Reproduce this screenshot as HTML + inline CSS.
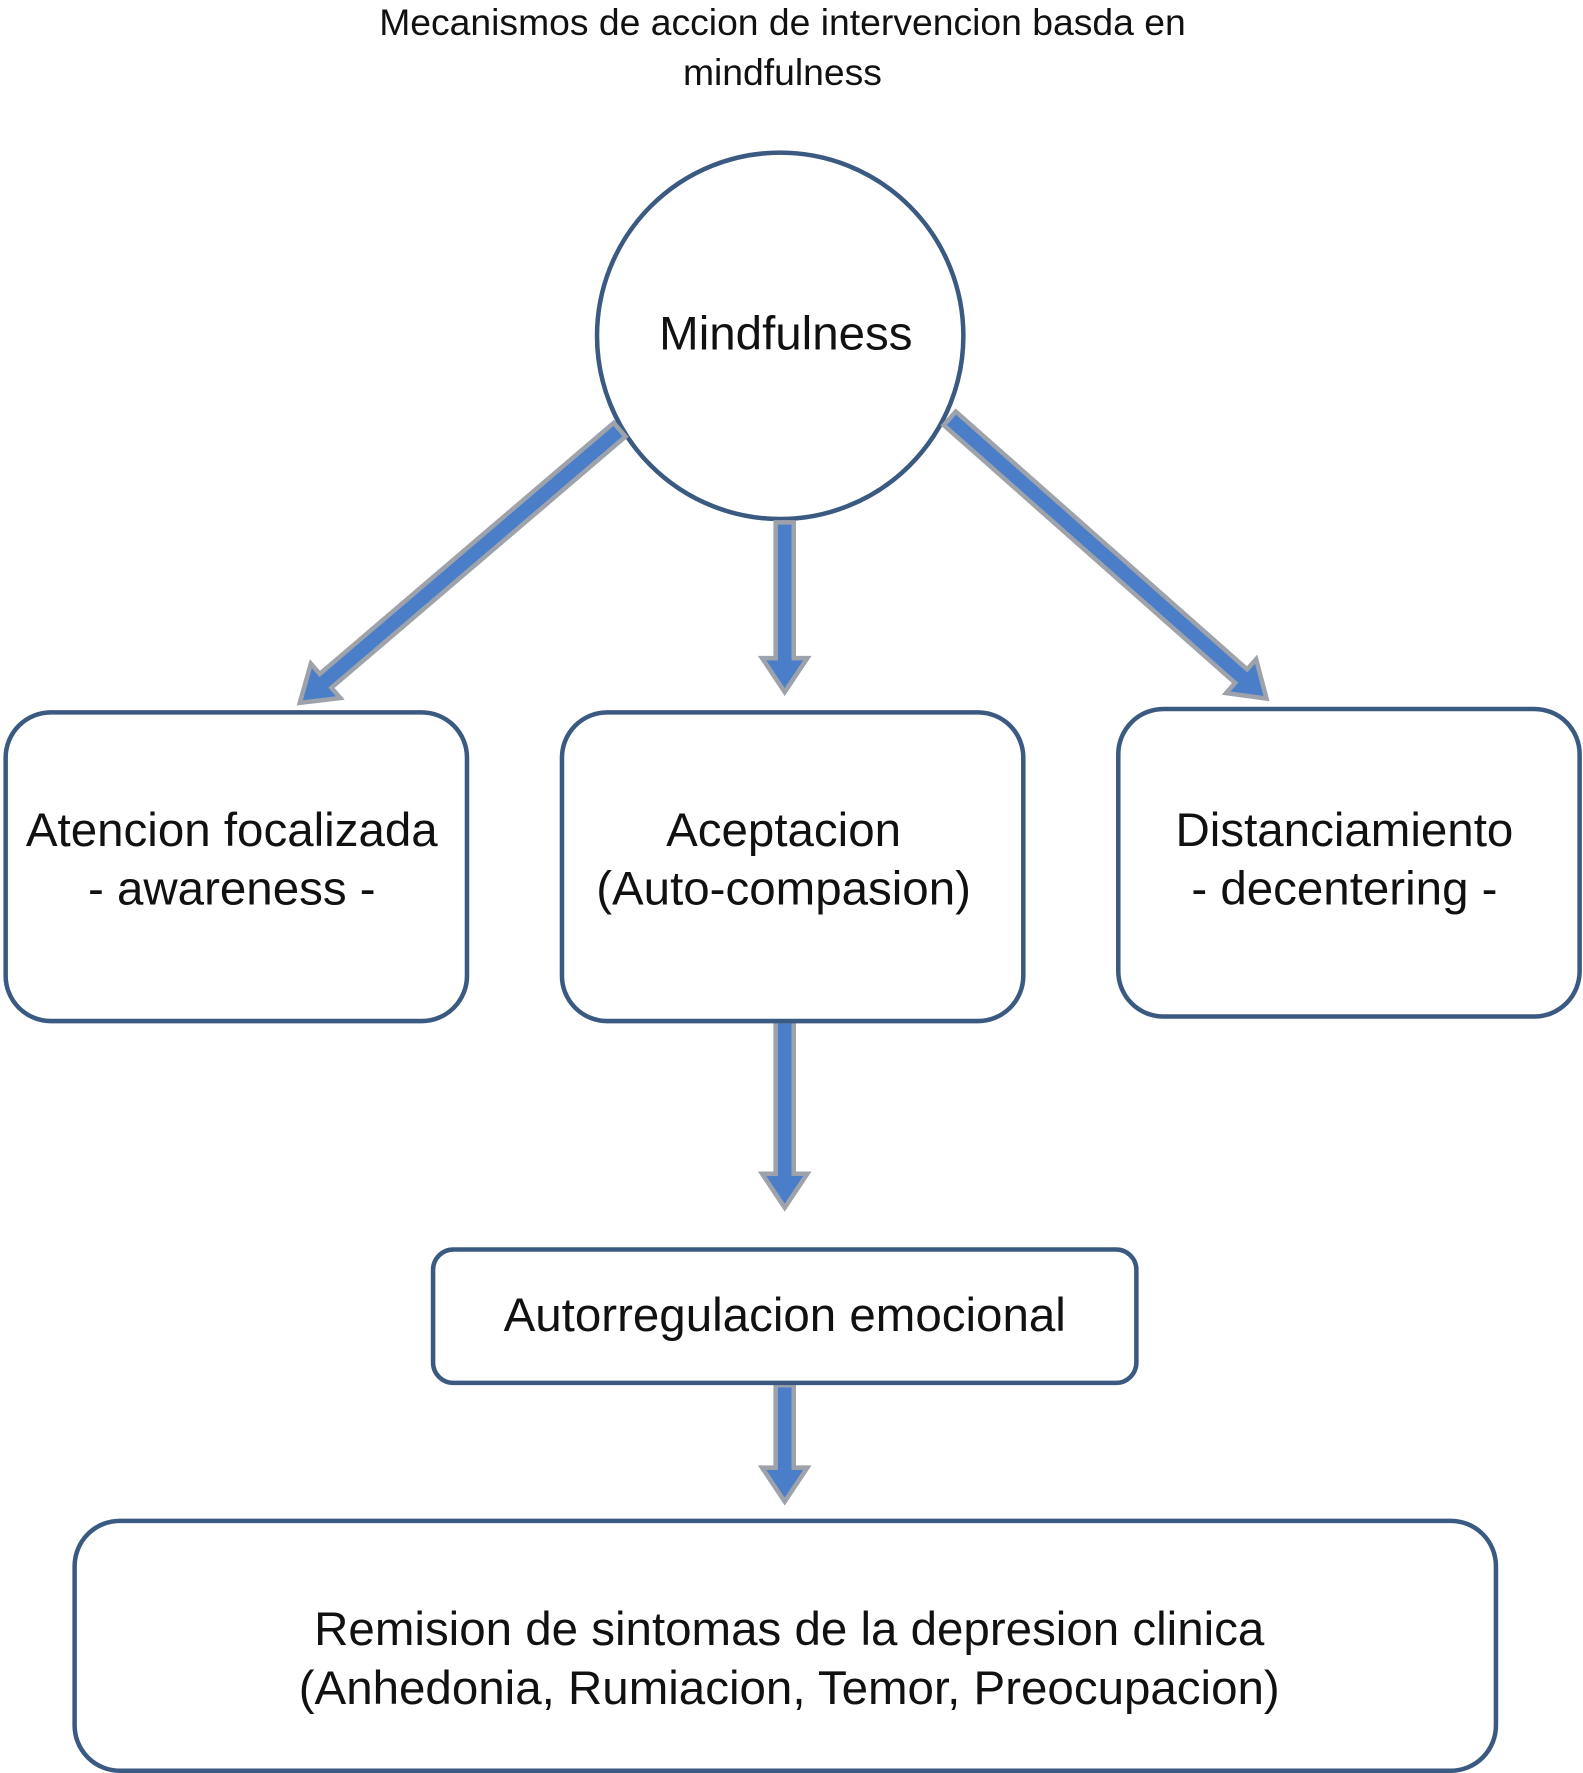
<!DOCTYPE html>
<html><head><meta charset="utf-8"><style>
html,body{margin:0;padding:0;background:#fff}
svg{display:block}
text{font-family:"Liberation Sans",Arial,sans-serif;fill:#111;text-anchor:middle}
</style></head><body>
<svg width="1583" height="1773" viewBox="0 0 1400 1568" xmlns="http://www.w3.org/2000/svg">
<defs>
<g id="a"><polygon points="0,-8 -30,-8 -30,-20 0,0"/></g>
</defs>
<text x="692" y="31" font-size="33">Mecanismos de accion de intervencion basda en</text>
<text x="692" y="75" font-size="33">mindfulness</text>
<circle cx="690" cy="297" r="162" fill="#fff" stroke="#3b5a82" stroke-width="4"/>
<text x="695" y="309" font-size="42">Mindfulness</text>
<g fill="#4a7ec8" stroke="#9ea2aa" stroke-width="4" stroke-linejoin="miter">
<polygon transform="translate(548,380) rotate(139.5)" points="0,-8 342,-8 342,-20 372,0 342,20 342,8 0,8"/>
<polygon transform="translate(840,370) rotate(41.5)" points="0,-8 344,-8 344,-20 374,0 344,20 344,8 0,8"/>
<polygon transform="translate(694,462) rotate(90)" points="0,-8 120,-8 120,-20 150,0 120,20 120,8 0,8"/>
<polygon transform="translate(694,903) rotate(90)" points="0,-8 135,-8 135,-20 165,0 135,20 135,8 0,8"/>
<polygon transform="translate(694,1225) rotate(90)" points="0,-8 73,-8 73,-20 103,0 73,20 73,8 0,8"/>
</g>
<g fill="#fff" stroke="#3b5a82" stroke-width="4">
<rect x="5" y="630" width="408" height="273" rx="40"/>
<rect x="497" y="630" width="408" height="273" rx="40"/>
<rect x="989" y="627" width="408" height="272" rx="40"/>
<rect x="383" y="1105" width="622" height="118" rx="18"/>
<rect x="66" y="1345" width="1257" height="221" rx="40"/>
</g>
<g font-size="42">
<text x="205" y="748">Atencion focalizada</text>
<text x="205" y="800">- awareness -</text>
<text x="693" y="748">Aceptacion</text>
<text x="693" y="800">(Auto-compasion)</text>
<text x="1189" y="748">Distanciamiento</text>
<text x="1189" y="800">- decentering -</text>
<text x="694" y="1177">Autorregulacion emocional</text>
<text x="698" y="1455">Remision de sintomas de la depresion clinica</text>
<text x="698" y="1507">(Anhedonia, Rumiacion, Temor, Preocupacion)</text>
</g>
</svg>
</body></html>
